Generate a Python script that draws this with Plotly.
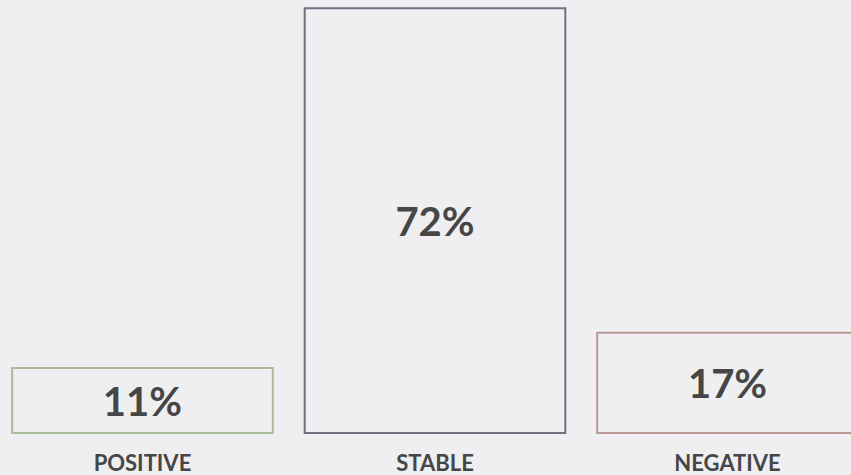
import plotly.graph_objects as go

categories = ["POSITIVE", "STABLE", "NEGATIVE"]
shares = [11, 72, 17]
labels = ["11%", "72%", "17%"]
outline_colors = ["#a9be98", "#6c7282", "#b99792"]

BG = "#efeff1"
TEXT = "#464646"
FONT = "Lato, 'Open Sans', sans-serif"

fig = go.Figure(
    go.Bar(
        x=list(range(len(categories))),
        y=shares,
        text=labels,
        textposition="inside",
        insidetextanchor="middle",
        textfont=dict(family=FONT, size=40, color=TEXT, weight="bold"),
        marker=dict(color=BG, line=dict(color=outline_colors, width=2)),
        hoverinfo="skip",
    )
)

fig.update_layout(
    width=851,
    height=475,
    paper_bgcolor=BG,
    plot_bgcolor=BG,
    margin=dict(l=0, r=0, t=2, b=40),
    bargap=0.109,
    showlegend=False,
    uniformtext=dict(mode="show", minsize=10),
)

fig.update_xaxes(
    range=[-0.487, 2.422],
    tickvals=list(range(len(categories))),
    ticktext=categories,
    tickfont=dict(family=FONT, size=22, color=TEXT, weight="bold"),
    showgrid=False,
    zeroline=False,
    showline=False,
    ticks="",
    ticklabelstandoff=13,
)
fig.update_yaxes(
    range=[-0.34, 73.05],
    visible=False,
    showgrid=False,
    zeroline=False,
)

fig.write_html("out.html")
